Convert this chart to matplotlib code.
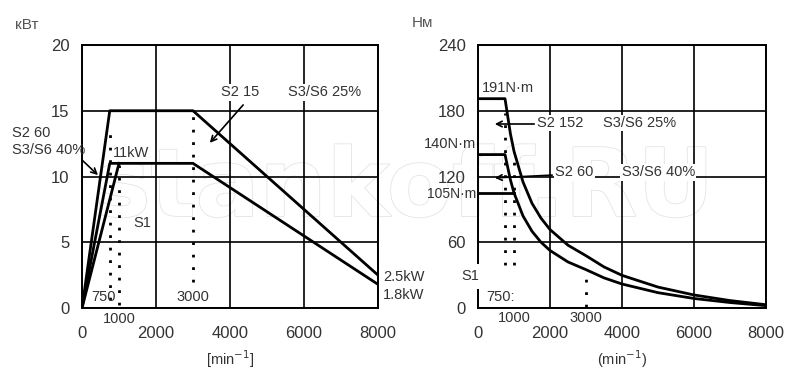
import matplotlib
matplotlib.use("Agg")
import matplotlib.pyplot as plt
import matplotlib.patheffects as pe

plt.rcParams['font.family'] = ['Liberation Sans', 'DejaVu Sans']

# power curves, kW vs min^-1
s2_15_speed = [0, 750, 3000, 8000]
s2_15_power = [0, 15, 15, 2.5]
s2_60_speed = [0, 750, 3000, 8000]
s2_60_power = [0, 11, 11, 1.8]
s1_speed = [0, 1000]
s1_power = [0, 11]

# torque curves, N*m vs min^-1
t25_speed = [0, 750, 900, 1000, 1250, 1500, 1750, 2000, 2500, 3000, 3500, 4000, 5000, 6000, 7000, 8000]
t25_torque = [191, 191, 159, 143, 115, 95.5, 82, 71.6, 57.3, 47.7, 37.5, 29.8, 19.1, 11.9, 6.8, 3.0]
t40_speed = [0, 750, 900, 1000, 1250, 1500, 1750, 2000, 2500, 3000, 3500, 4000, 5000, 6000, 7000, 8000]
t40_torque = [140, 140, 117, 105, 84, 70, 60, 52.5, 42, 35, 27.5, 21.9, 14.0, 8.7, 5.0, 2.15]
ts1_speed = [0, 1000]
ts1_torque = [105, 105]

xticks = [0, 2000, 4000, 6000, 8000]
p_ticks = [0, 5, 10, 15, 20]
t_ticks = [0, 60, 120, 180, 240]

txt = '#333333'
lw = 2.0
dots = (0, (1, 3.5))
fs = 10.5

fig = plt.figure(figsize=(8.08, 3.79), dpi=100)
ax1 = fig.add_axes([0.1015, 0.1873, 0.3663, 0.694])
ax2 = fig.add_axes([0.5916, 0.1873, 0.3564, 0.694])

for ax, yt in ((ax1, p_ticks), (ax2, t_ticks)):
    ax.set_xlim(0, 8000)
    ax.set_ylim(yt[0], yt[-1])
    ax.set_xticks(xticks)
    ax.set_yticks(yt)
    ax.tick_params(length=0, labelsize=12, labelcolor=txt)
    ax.tick_params(axis='x', pad=13)
    ax.tick_params(axis='y', pad=9)
    ax.grid(True, color='black', linewidth=1.2)
    ax.set_axisbelow(True)
    ax.set_facecolor('none')
    for s in ax.spines.values():
        s.set_linewidth(1.4)

# ---- left: power
ax1.plot(s2_15_speed, s2_15_power, color='black', lw=lw)
ax1.plot(s2_60_speed, s2_60_power, color='black', lw=lw)
ax1.plot(s1_speed, s1_power, color='black', lw=lw)
ax1.vlines([750], 0.6, 13.5, colors='black', linestyles=dots, lw=2)
ax1.vlines([1000], 0.2, 10.9, colors='black', linestyles=dots, lw=2)
ax1.vlines([3000], 2.0, 14.6, colors='black', linestyles=dots, lw=2)

wb = dict(facecolor='white', edgecolor='none', pad=1)
ax1.text(3757, 16.4, 'S2 15', fontsize=fs, color=txt, va='center', bbox=wb)
ax1.text(5568, 16.4, 'S3/S6 25%', fontsize=fs, color=txt, va='center', bbox=wb)
ax1.annotate('', xy=(3405, 12.4), xytext=(4405, 15.6),
             arrowprops=dict(arrowstyle='->', color='black', lw=1.2))
ax1.text(-1892, 13.3, 'S2 60', fontsize=fs, color=txt, va='center', clip_on=False)
ax1.text(-1892, 12.0, 'S3/S6 40%', fontsize=fs, color=txt, va='center', clip_on=False)
ax1.annotate('', xy=(486, 9.96), xytext=(-54, 11.4), annotation_clip=False,
             arrowprops=dict(arrowstyle='->', color='black', lw=1.2))
ax1.text(838, 11.8, '11kW', fontsize=fs, color=txt, va='center')
ax1.text(1378, 6.46, 'S1', fontsize=fs, color=txt, va='center')
ax1.text(243, 0.84, '750', fontsize=fs, color=txt, va='center')
ax1.text(3000, 0.84, '3000', fontsize=fs, color=txt, va='center', ha='center')
ax1.text(1000, -0.8, '1000', fontsize=fs, color=txt, va='center', ha='center', clip_on=False)
ax1.text(8135, 2.36, '2.5kW', fontsize=fs, color=txt, va='center', clip_on=False)
ax1.text(8135, 0.99, '1.8kW', fontsize=fs, color=txt, va='center', clip_on=False)
ax1.set_xlabel('[min$^{-1}$]', fontsize=fs, color=txt, labelpad=5)
fig.text(15 / 808, 1 - 25 / 379, 'кВт', fontsize=11, color='#555555', va='center')

# ---- right: torque
ax2.plot(t25_speed, t25_torque, color='black', lw=lw)
ax2.plot(t40_speed, t40_torque, color='black', lw=lw)
ax2.plot(ts1_speed, ts1_torque, color='black', lw=lw)
ax2.vlines([750], 39, 178, colors='black', linestyles=dots, lw=2)
ax2.vlines([1000], 39, 135, colors='black', linestyles=dots, lw=2)
ax2.vlines([3000], 1, 36, colors='black', linestyles=dots, lw=2)

ax2.text(111, 200.8, '191N·m', fontsize=fs, color=txt, va='center')
ax2.text(1639, 168.8, 'S2 152', fontsize=fs, color=txt, va='center', bbox=wb)
ax2.text(3472, 168.8, 'S3/S6 25%', fontsize=fs, color=txt, va='center', bbox=wb)
ax2.annotate('', xy=(389, 167.9), xytext=(1639, 167.9),
             arrowprops=dict(arrowstyle='->', color='black', lw=1.2))
ax2.text(-40, 149.5, '140N·m', fontsize=fs, color=txt, va='center', ha='right', clip_on=False)
ax2.text(2139, 124, 'S2 60', fontsize=fs, color=txt, va='center', bbox=wb)
ax2.text(3991, 124, 'S3/S6 40%', fontsize=fs, color=txt, va='center', bbox=wb)
ax2.annotate('', xy=(389, 118.6), xytext=(2139, 121.4),
             arrowprops=dict(arrowstyle='->', color='black', lw=1.2))
ax2.text(-50, 104, '105N·m', fontsize=10, color=txt, va='center', ha='right', clip_on=False)
ax2.text(20, 29, 'S1', fontsize=fs, color=txt, va='center', ha='right', clip_on=False,
         bbox=dict(facecolor='white', edgecolor='none', pad=4), zorder=5)
ax2.text(241, 10, '750:', fontsize=fs, color=txt, va='center')
ax2.text(1000, -9, '1000', fontsize=fs, color=txt, va='center', ha='center', clip_on=False)
ax2.text(3000, -9, '3000', fontsize=fs, color=txt, va='center', ha='center', clip_on=False)
ax2.set_xlabel('(min$^{-1}$)', fontsize=fs, color=txt, labelpad=5)
fig.text(412 / 808, 1 - 23 / 379, 'Нм', fontsize=11, color='#555555', va='center')

# faint watermark behind the plots
fig.text(0.5, 1 - 190 / 379, 'stankoff.RU', fontsize=68, fontweight='bold',
         family='DejaVu Sans', color='white', ha='center', va='center',
         path_effects=[pe.withStroke(linewidth=1.2, foreground='#e4e4e4')], zorder=-1)

fig.savefig('out.png', dpi=100)
